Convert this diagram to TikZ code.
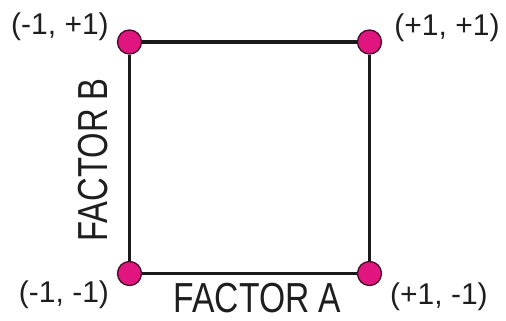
\documentclass[tikz,border=0pt]{standalone}
\usepackage{fontspec}
\setmainfont{Liberation Sans}
\usepackage{graphicx}
\definecolor{dotfill}{HTML}{E0157F}
\definecolor{dotedge}{HTML}{4A0A28}
\definecolor{edgeline}{HTML}{1A1A1A}
\definecolor{txt}{HTML}{1E1E1E}
\begin{document}
\begin{tikzpicture}[x=1pt,y=-1pt,
  dot/.style={circle,fill=dotfill,draw=dotedge,line width=1.3pt,minimum size=24pt,inner sep=0pt},
  side/.style={draw=edgeline,line width=3.4pt},
  coordlabel/.style={anchor=base,inner sep=0pt,text=txt,font=\fontsize{30}{36}\selectfont},
  factorlabel/.style={anchor=base,inner sep=0pt,text=txt,font=\fontsize{42}{48}\selectfont}]
\useasboundingbox (0,0) rectangle (506,321);
\node[dot] (tl) at (129.5,42) {};
\node[dot] (tr) at (369.5,42) {};
\node[dot] (bl) at (129.5,273.5) {};
\node[dot] (br) at (369.5,273.5) {};
\draw[side] (tl) -- (tr);
\draw[side] (tr) -- (br);
\draw[side] (br) -- (bl);
\draw[side] (bl) -- (tl);
\node[coordlabel] (ltl) at (60,35) {(-1, +1)};
\node[coordlabel] (ltr) at (447,36) {(+1, +1)};
\node[coordlabel] (lbl) at (64,302) {(-1, -1)};
\node[coordlabel] (lbr) at (439,304) {(+1, -1)};
\node[factorlabel] (fa) at (257.5,312.5) {\scalebox{0.8}[1]{FACTOR A}};
\node[factorlabel,rotate=90] (fb) at (107.5,160) {\scalebox{0.78}[1]{FACTOR B}};
\end{tikzpicture}
\end{document}
